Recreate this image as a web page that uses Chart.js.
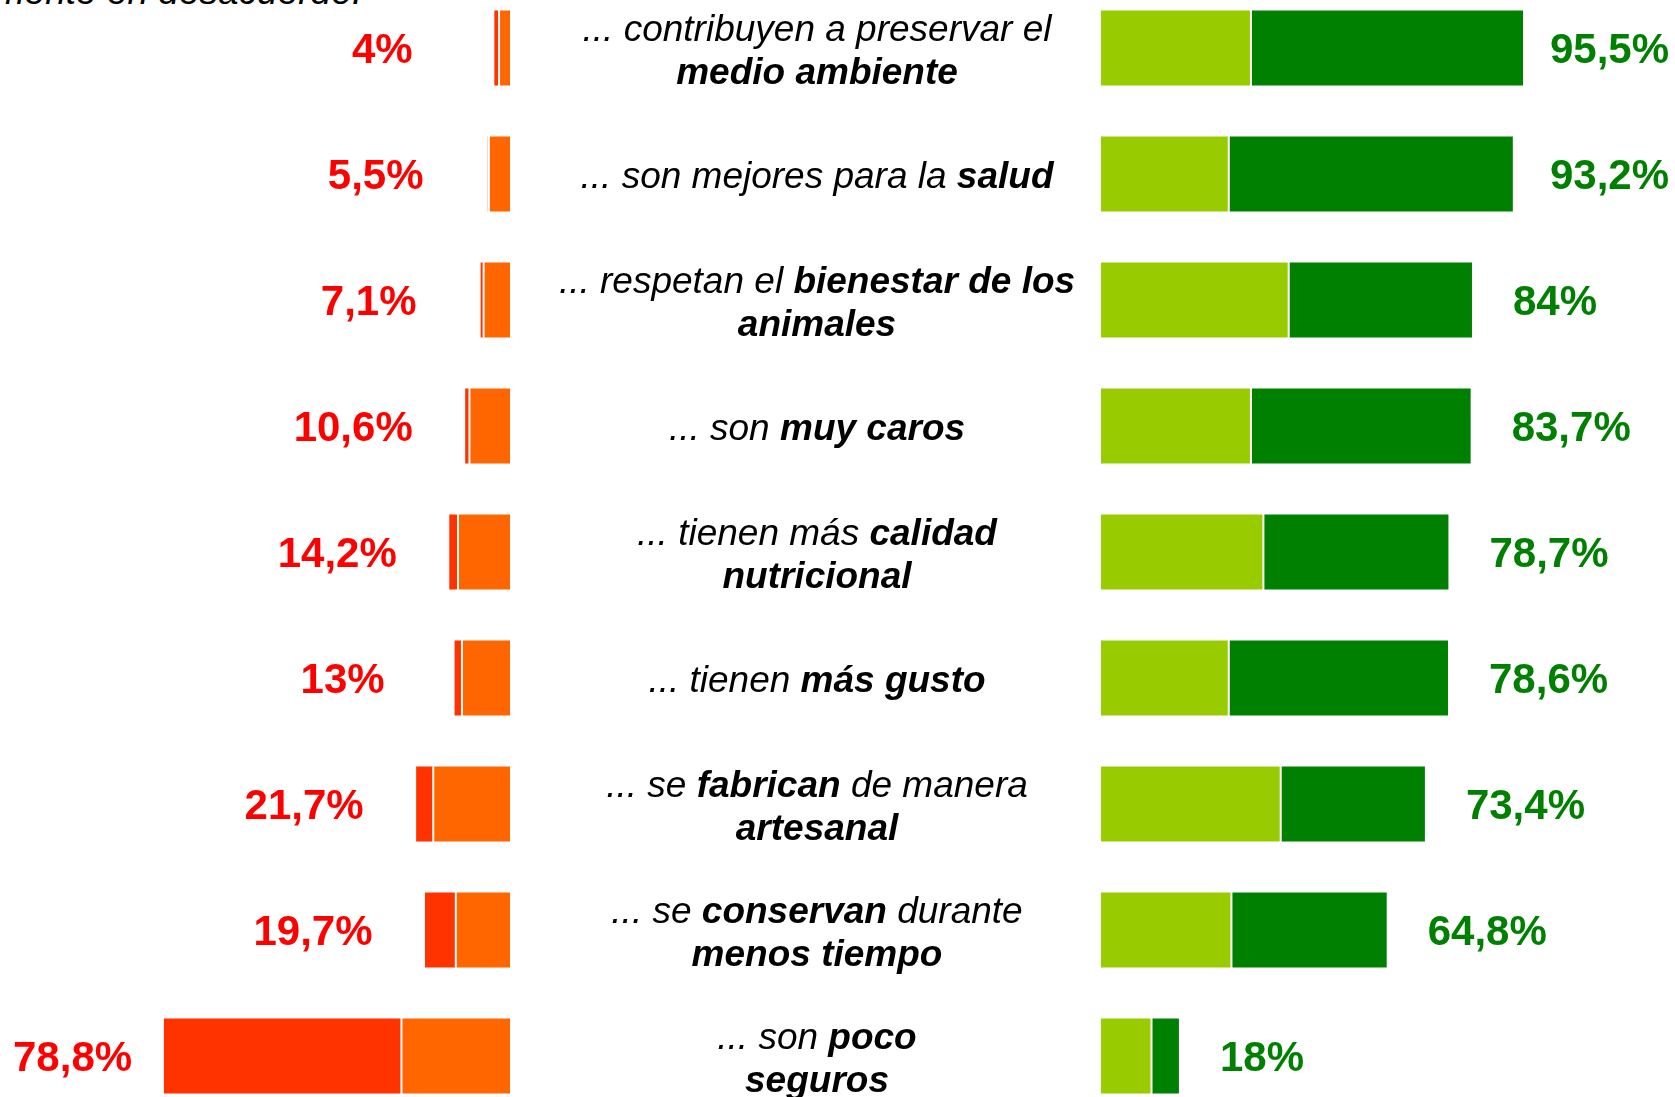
<!DOCTYPE html>
<html>
<head>
<meta charset="utf-8">
<script src="https://cdn.jsdelivr.net/npm/chart.js@4/dist/chart.umd.min.js"></script>
<style>
  html, body { margin: 0; padding: 0; background: #fff; overflow: hidden; }
  body { width: 1675px; height: 1097px; position: relative; font-family: "Liberation Sans", Arial, sans-serif; }
  #left-chart { position: absolute; left: 3px; top: -15px; }
  #right-chart { position: absolute; left: 511px; top: -15px; }
  #note { position: absolute; right: 1313px; top: -27px; font-style: italic; font-size: 37px; line-height: 37px; white-space: nowrap; color: #000; }
</style>
</head>
<body>
<div id="note">totalmente en desacuerdo.</div>
<canvas id="left-chart" width="508" height="1134"></canvas>
<canvas id="right-chart" width="1164" height="1134"></canvas>
<script>
// texto entre * va en negrita, | separa líneas
const categories = [
    '... contribuyen a preservar el|*medio ambiente*',
    '... son mejores para la *salud*',
    '... respetan el *bienestar de los*|*animales*',
    '... son *muy caros*',
    '... tienen más *calidad*|*nutricional*',
    '... tienen *más gusto*',
    '... se *fabrican* de manera|*artesanal*',
    '... se *conservan* durante|*menos tiempo*',
    '... son *poco*|*seguros*'
];
const desacuerdo      = [2.7, 5.0, 6.2, 9.4, 12.0, 11.1, 17.6, 12.5, 24.8];
const totDesacuerdo   = [1.3, 0.5, 0.9, 1.2, 2.2, 1.9, 4.1, 7.2, 54.0];
const acuerdo         = [34.0, 29.0, 42.5, 34.0, 36.8, 29.0, 40.7, 29.6, 11.6];
const totAcuerdo      = [61.5, 64.2, 41.5, 49.7, 41.9, 49.6, 32.7, 35.2, 6.4];

const FONT = '"Liberation Sans", Arial, sans-serif';
const plainLabels = categories.map(c => c.replace(/[*|]/g, ' ').replace(/\s+/g, ' ').trim());

function fmt(v) {
    return (Math.round(v * 10) / 10).toString().replace('.', ',') + '%';
}

const totalLabels = {
    id: 'totalLabels',
    afterDatasetsDraw(chart, args, opts) {
        const ctx = chart.ctx;
        const outer = chart.getDatasetMeta(chart.data.datasets.length - 1);
        ctx.save();
        ctx.font = 'bold 42px ' + FONT;
        ctx.fillStyle = opts.color;
        ctx.textBaseline = 'middle';
        outer.data.forEach((bar, i) => {
            const total = chart.data.datasets.reduce((s, ds) => s + ds.data[i], 0);
            const text = fmt(total);
            const w = ctx.measureText(text).width;
            if (opts.side === 'left') {
                ctx.textAlign = 'center';
                const x = Math.max(bar.x - 111, chart.chartArea.left + w / 2 + 10);
                ctx.fillText(text, x, bar.y + 3);
            } else {
                ctx.textAlign = 'left';
                const x = Math.min(bar.x + 40, chart.chartArea.right - w - 6);
                ctx.fillText(text, x, bar.y + 3);
            }
        });
        ctx.restore();
    }
};

const centerLabels = {
    id: 'centerLabels',
    afterDraw(chart) {
        const ctx = chart.ctx;
        const yScale = chart.scales.y;
        const cx = chart.chartArea.left - 283;
        const lineH = 43;
        ctx.save();
        ctx.fillStyle = '#000';
        ctx.textBaseline = 'middle';
        ctx.textAlign = 'left';
        categories.forEach((cat, i) => {
            const lines = cat.split('|');
            const y0 = yScale.getPixelForValue(i) + 4 - (lines.length - 1) * lineH / 2;
            lines.forEach((line, j) => {
                const parts = line.split('*');
                let total = 0;
                parts.forEach((p, k) => {
                    ctx.font = (k % 2 ? 'italic bold 37px ' : 'italic 37px ') + FONT;
                    total += ctx.measureText(p).width;
                });
                let x = cx - total / 2;
                parts.forEach((p, k) => {
                    ctx.font = (k % 2 ? 'italic bold 37px ' : 'italic 37px ') + FONT;
                    ctx.fillText(p, x, y0 + j * lineH);
                    x += ctx.measureText(p).width;
                });
            });
        });
        ctx.restore();
    }
};

const barStyle = { borderColor: '#ffffff', borderWidth: 1, borderSkipped: false, barPercentage: 0.61, categoryPercentage: 1 };

new Chart(document.getElementById('left-chart'), {
    type: 'bar',
    data: {
        labels: plainLabels,
        datasets: [
            Object.assign({ label: 'En desacuerdo', data: desacuerdo, backgroundColor: '#FF6600' }, barStyle),
            Object.assign({ label: 'Totalmente en desacuerdo', data: totDesacuerdo, backgroundColor: '#FF3300' }, barStyle)
        ]
    },
    options: {
        indexAxis: 'y',
        responsive: false,
        animation: false,
        layout: { padding: 0 },
        scales: {
            x: { stacked: true, reverse: true, min: 0, max: 115, display: false },
            y: { stacked: true, display: false }
        },
        plugins: {
            legend: { display: false },
            tooltip: { enabled: false },
            totalLabels: { side: 'left', color: '#FF0000' }
        }
    },
    plugins: [totalLabels]
});

new Chart(document.getElementById('right-chart'), {
    type: 'bar',
    data: {
        labels: plainLabels,
        datasets: [
            Object.assign({ label: 'De acuerdo', data: acuerdo, backgroundColor: '#99CC00' }, barStyle),
            Object.assign({ label: 'Totalmente de acuerdo', data: totAcuerdo, backgroundColor: '#008000' }, barStyle)
        ]
    },
    options: {
        indexAxis: 'y',
        responsive: false,
        animation: false,
        layout: { padding: { left: 589, right: 0, top: 0, bottom: 0 } },
        scales: {
            x: { stacked: true, min: 0, max: 129.5, display: false },
            y: { stacked: true, display: false }
        },
        plugins: {
            legend: { display: false },
            tooltip: { enabled: false },
            totalLabels: { side: 'right', color: '#008000' }
        }
    },
    plugins: [totalLabels, centerLabels]
});
</script>
</body>
</html>
